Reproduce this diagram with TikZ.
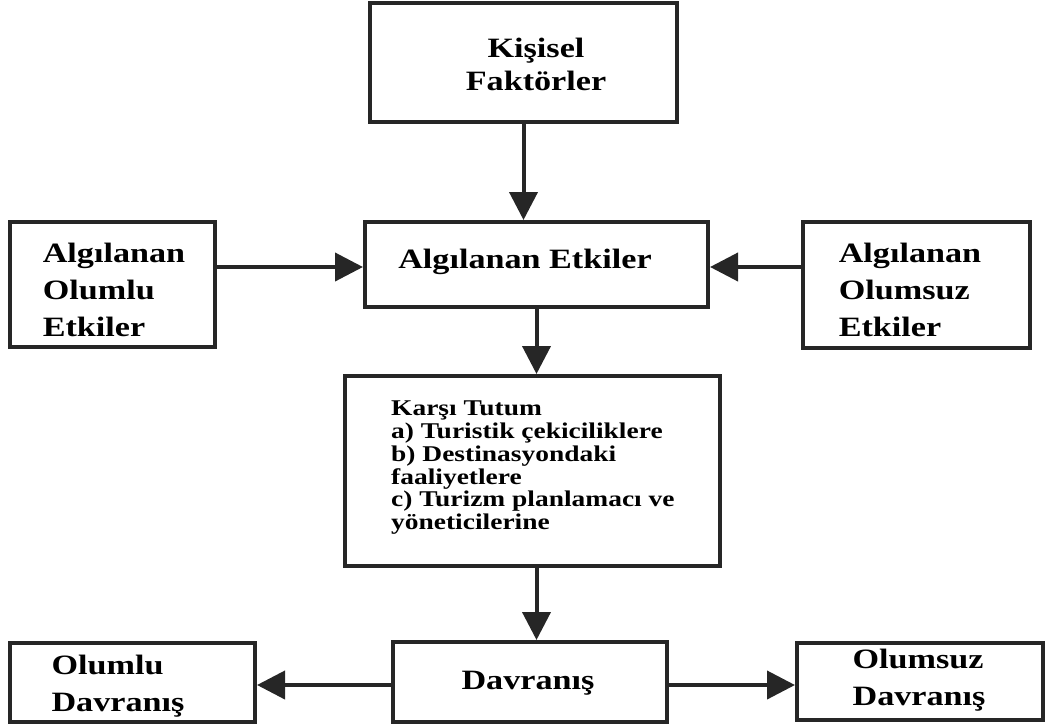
\documentclass[tikz,border=0pt]{standalone}
\usepackage{fontspec}
\setmainfont{Liberation Serif}[FakeStretch=1.22]
\usetikzlibrary{arrows.meta}
\tikzset{
  box/.style={draw=black!85, line width=4pt, fill=white, inner sep=0pt},
  big/.style={font=\bfseries\fontsize{28}{37}\selectfont, align=left, inner sep=0pt},
  small/.style={font=\bfseries\fontsize{22.5}{22.7}\selectfont, align=left, inner sep=0pt},
  conn/.style={draw=black!85, line width=4pt, -{Triangle[length=28pt,width=28pt]}},
}
\begin{document}
\begin{tikzpicture}[x=1pt,y=-1pt]
\useasboundingbox (0,0) rectangle (1056,726);
% boxes
\node[box, minimum width=307pt, minimum height=119pt] (kis) at (523.5,62.5) {};
\node[box, minimum width=205pt, minimum height=125pt] (lo) at (112.5,284.5) {};
\node[box, minimum width=343pt, minimum height=85pt] (ae) at (536.5,264.5) {};
\node[box, minimum width=227pt, minimum height=126pt] (ro) at (916.5,285) {};
\node[box, minimum width=375pt, minimum height=190pt] (kt) at (532.5,471) {};
\node[box, minimum width=245pt, minimum height=79pt] (od) at (132.5,682.5) {};
\node[box, minimum width=274pt, minimum height=80pt] (dv) at (530,682) {};
\node[box, minimum width=246pt, minimum height=77pt] (nd) at (920,681.5) {};
% texts
\node[big, align=center, font=\bfseries\fontsize{28}{33}\selectfont] (tkis) at (536,64) {Kişisel\\Faktörler};
\node[big] (tlo) at (114,290) {Algılanan\\Olumlu\\Etkiler};
\node[big] (tae) at (525,262) {Algılanan Etkiler};
\node[big] (tro) at (910,290) {Algılanan\\Olumsuz\\Etkiler};
\node[small, anchor=north west] (tkt) at (391,401) {Karşı Tutum\\a) Turistik çekiciliklere\\b) Destinasyondaki\\faaliyetlere\\c) Turizm planlamacı ve\\yöneticilerine};
\node[big] (tod) at (118,686) {Olumlu\\Davranış};
\node[big] (tdv) at (528,683) {Davranış};
\node[big] (tnd) at (919,680) {Olumsuz\\Davranış};
% connectors
\draw[conn] (kis.south) -- (kis.south |- ae.north);
\draw[conn] (lo.east |- 0,267) -- (ae.west |- 0,267);
\draw[conn] (ro.west |- 0,267) -- (ae.east |- 0,267);
\draw[conn] (ae.south) -- (ae.south |- kt.north);
\draw[conn] (kt.south -| ae.south) -- (ae.south |- dv.north);
\draw[conn] (dv.west |- 0,685) -- (od.east |- 0,685);
\draw[conn] (dv.east |- 0,685) -- (nd.west |- 0,685);
\end{tikzpicture}
\end{document}
